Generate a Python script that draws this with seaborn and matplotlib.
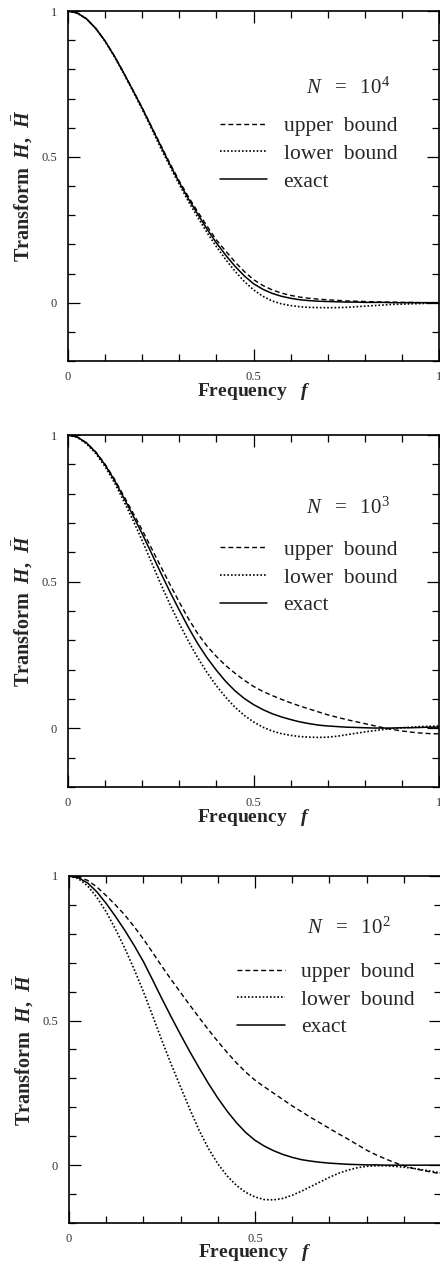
import matplotlib
matplotlib.use("Agg")
import matplotlib.pyplot as plt
import seaborn as sns
import pandas as pd
from matplotlib.ticker import MultipleLocator, FixedLocator, FixedFormatter

# Frequency grid at which the transforms were tabulated
freq = [0.000, 0.025, 0.050, 0.075, 0.100, 0.125, 0.150, 0.175, 0.200, 0.225,
        0.250, 0.275, 0.300, 0.325, 0.350, 0.375, 0.400, 0.425, 0.450, 0.475,
        0.500, 0.525, 0.550, 0.575, 0.600, 0.625, 0.650, 0.675, 0.700, 0.725,
        0.750, 0.775, 0.800, 0.825, 0.850, 0.875, 0.900, 0.925, 0.950, 0.975,
        1.000]

# N = 10^4
exact_1e4 = [1.000, 0.993, 0.973, 0.940, 0.897, 0.845, 0.788, 0.728, 0.667, 0.602,
             0.537, 0.473, 0.412, 0.355, 0.303, 0.252, 0.205, 0.163, 0.125, 0.092,
             0.065, 0.046, 0.032, 0.022, 0.015, 0.010, 0.007, 0.005, 0.004, 0.003,
             0.002, 0.002, 0.001, 0.001, 0.001, 0.000, 0.000, 0.000, 0.000, 0.000,
             0.000]
upper_1e4 = [1.000, 0.993, 0.973, 0.940, 0.897, 0.846, 0.789, 0.729, 0.668, 0.604,
             0.540, 0.477, 0.417, 0.362, 0.311, 0.262, 0.215, 0.177, 0.140, 0.107,
             0.079, 0.059, 0.044, 0.033, 0.025, 0.019, 0.015, 0.012, 0.010, 0.008,
             0.006, 0.005, 0.004, 0.003, 0.002, 0.002, 0.001, 0.001, 0.000, 0.000,
             0.000]
lower_1e4 = [1.000, 0.993, 0.973, 0.940, 0.896, 0.844, 0.786, 0.725, 0.663, 0.597,
             0.530, 0.467, 0.405, 0.346, 0.292, 0.240, 0.192, 0.148, 0.108, 0.073,
             0.044, 0.022, 0.006, -0.004, -0.010, -0.014, -0.016, -0.017, -0.017, -0.017,
             -0.016, -0.014, -0.012, -0.010, -0.008, -0.006, -0.005, -0.004, -0.003, -0.002,
             -0.001]

# N = 10^3
exact_1e3 = [1.000, 0.993, 0.973, 0.941, 0.898, 0.846, 0.787, 0.726, 0.663, 0.597,
             0.530, 0.465, 0.403, 0.343, 0.288, 0.240, 0.198, 0.160, 0.128, 0.102,
             0.081, 0.064, 0.050, 0.039, 0.030, 0.022, 0.016, 0.011, 0.008, 0.006,
             0.004, 0.003, 0.002, 0.001, 0.001, 0.001, 0.002, 0.002, 0.003, 0.004,
             0.004]
upper_1e3 = [1.000, 0.993, 0.973, 0.942, 0.900, 0.850, 0.793, 0.735, 0.676, 0.614,
             0.552, 0.490, 0.430, 0.373, 0.322, 0.280, 0.245, 0.214, 0.188, 0.164,
             0.143, 0.126, 0.112, 0.099, 0.087, 0.076, 0.066, 0.056, 0.046, 0.038,
             0.030, 0.023, 0.016, 0.009, 0.002, -0.004, -0.009, -0.013, -0.016, -0.018,
             -0.019]
lower_1e3 = [1.000, 0.992, 0.970, 0.937, 0.892, 0.838, 0.776, 0.710, 0.640, 0.566,
             0.492, 0.422, 0.357, 0.296, 0.240, 0.190, 0.145, 0.106, 0.072, 0.044,
             0.022, 0.004, -0.009, -0.018, -0.024, -0.028, -0.030, -0.031, -0.030, -0.027,
             -0.022, -0.017, -0.012, -0.008, -0.004, -0.001, 0.002, 0.004, 0.006, 0.007,
             0.008]

# N = 10^2
exact_1e2 = [1.000, 0.994, 0.976, 0.945, 0.905, 0.860, 0.812, 0.760, 0.704, 0.640,
             0.575, 0.512, 0.451, 0.392, 0.336, 0.282, 0.232, 0.187, 0.147, 0.113,
             0.086, 0.066, 0.050, 0.037, 0.027, 0.019, 0.014, 0.010, 0.007, 0.005,
             0.003, 0.002, 0.001, 0.001, 0.000, 0.000, 0.000, 0.000, 0.000, 0.000,
             0.000]
upper_1e2 = [1.000, 0.996, 0.985, 0.962, 0.932, 0.900, 0.865, 0.825, 0.782, 0.735,
             0.687, 0.641, 0.597, 0.553, 0.510, 0.468, 0.428, 0.390, 0.354, 0.322,
             0.294, 0.271, 0.249, 0.227, 0.205, 0.185, 0.165, 0.146, 0.127, 0.108,
             0.090, 0.071, 0.052, 0.036, 0.022, 0.009, -0.002, -0.011, -0.018, -0.024,
             -0.030]
lower_1e2 = [1.000, 0.991, 0.966, 0.926, 0.876, 0.816, 0.750, 0.678, 0.600, 0.516,
             0.430, 0.348, 0.270, 0.193, 0.120, 0.057, 0.005, -0.037, -0.070, -0.094,
             -0.110, -0.119, -0.120, -0.115, -0.104, -0.090, -0.074, -0.058, -0.042, -0.028,
             -0.017, -0.009, -0.004, -0.002, -0.002, -0.004, -0.007, -0.011, -0.016, -0.021,
             -0.027]

panel_exponents = ["4", "3", "2"]
series_labels = ["upper  bound", "lower  bound", "exact"]
tick_text = ["0", "0.5", "1"]

panels = [
    (upper_1e4, lower_1e4, exact_1e4),
    (upper_1e3, lower_1e3, exact_1e3),
    (upper_1e2, lower_1e2, exact_1e2),
]

sns.set_theme(style="ticks")
plt.rcParams.update({
    "font.family": ["Liberation Serif", "DejaVu Serif"],
    "mathtext.fontset": "custom",
    "mathtext.rm": "Liberation Serif",
    "mathtext.it": "Liberation Serif:italic:bold",
    "mathtext.bf": "Liberation Serif:bold",
    "mathtext.sf": "Liberation Serif:italic",
    "axes.linewidth": 1.2,
    "axes.edgecolor": "black",
})

W, H = 440, 1266
fig = plt.figure(figsize=(W / 100, H / 100), dpi=100)

# axes boxes in pixels: left, top, right, bottom
boxes = [(68, 11, 439, 361), (68, 435, 439, 787), (69, 876, 441, 1223)]
legend_anchor = [(0.41, 0.699), (0.41, 0.702), (0.452, 0.752)]
title_pos = [(0.755, 0.78), (0.755, 0.793), (0.753, 0.85)]
# the lower panel runs off the right edge, so its "1" is not printed
xtick_text = [tick_text, tick_text, ["0", "0.5", ""]]

styles = {
    "upper  bound": dict(linestyle=(0, (3.5, 2.2)), linewidth=1.0),
    "lower  bound": dict(linestyle=(0, (1.0, 1.2)), linewidth=1.2),
    "exact": dict(linestyle="-", linewidth=1.1),
}

for i, (series, box) in enumerate(zip(panels, boxes)):
    l, t, r, b = box
    ax = fig.add_axes([l / W, 1 - b / H, (r - l) / W, (b - t) / H])
    for name, vals in zip(series_labels, series):
        df = pd.DataFrame({"f": freq, "H": vals})
        sns.lineplot(data=df, x="f", y="H", ax=ax, color="black", label=name,
                     **styles[name])
    ax.set_xlim(0, 1)
    ax.set_ylim(-0.2, 1.0)
    ax.xaxis.set_major_locator(FixedLocator([0, 0.5, 1]))
    ax.xaxis.set_major_formatter(FixedFormatter(xtick_text[i]))
    ax.yaxis.set_major_locator(FixedLocator([0, 0.5, 1]))
    ax.yaxis.set_major_formatter(FixedFormatter(tick_text))
    ax.xaxis.set_minor_locator(MultipleLocator(0.1))
    ax.yaxis.set_minor_locator(MultipleLocator(0.1))
    ax.tick_params(which="both", direction="in", top=True, right=True,
                   width=0.9, color="black", labelsize=9, labelcolor="#333333")
    ax.tick_params(which="major", length=8.5)
    ax.tick_params(which="minor", length=5)
    ax.tick_params(axis="x", pad=7)
    ax.tick_params(axis="y", pad=8)
    for sp in ax.spines.values():
        sp.set_visible(True)
        sp.set_linewidth(1.2)

    ax.set_xlabel(r"Frequency   $f$", fontsize=14, fontweight="bold")
    ax.set_ylabel(r"Transform  $H$,  $\bar{H}$", fontsize=14.5, fontweight="bold")
    ax.xaxis.set_label_coords(0.5, -0.056)
    ax.yaxis.set_label_coords(-0.09, 0.5)

    tx, ty = title_pos[i]
    ax.text(tx, ty, r"$\mathsf{N}\ \ =\ \ 10^{" + panel_exponents[i] + "}$",
            transform=ax.transAxes, ha="center", va="center", fontsize=15)

    ax.legend(loc="upper left", bbox_to_anchor=legend_anchor[i], frameon=False,
              fontsize=15.5, handlelength=2.2, handletextpad=0.75,
              labelspacing=0.35, borderpad=0, borderaxespad=0)

fig.savefig("out.png", dpi=100, facecolor="white")
